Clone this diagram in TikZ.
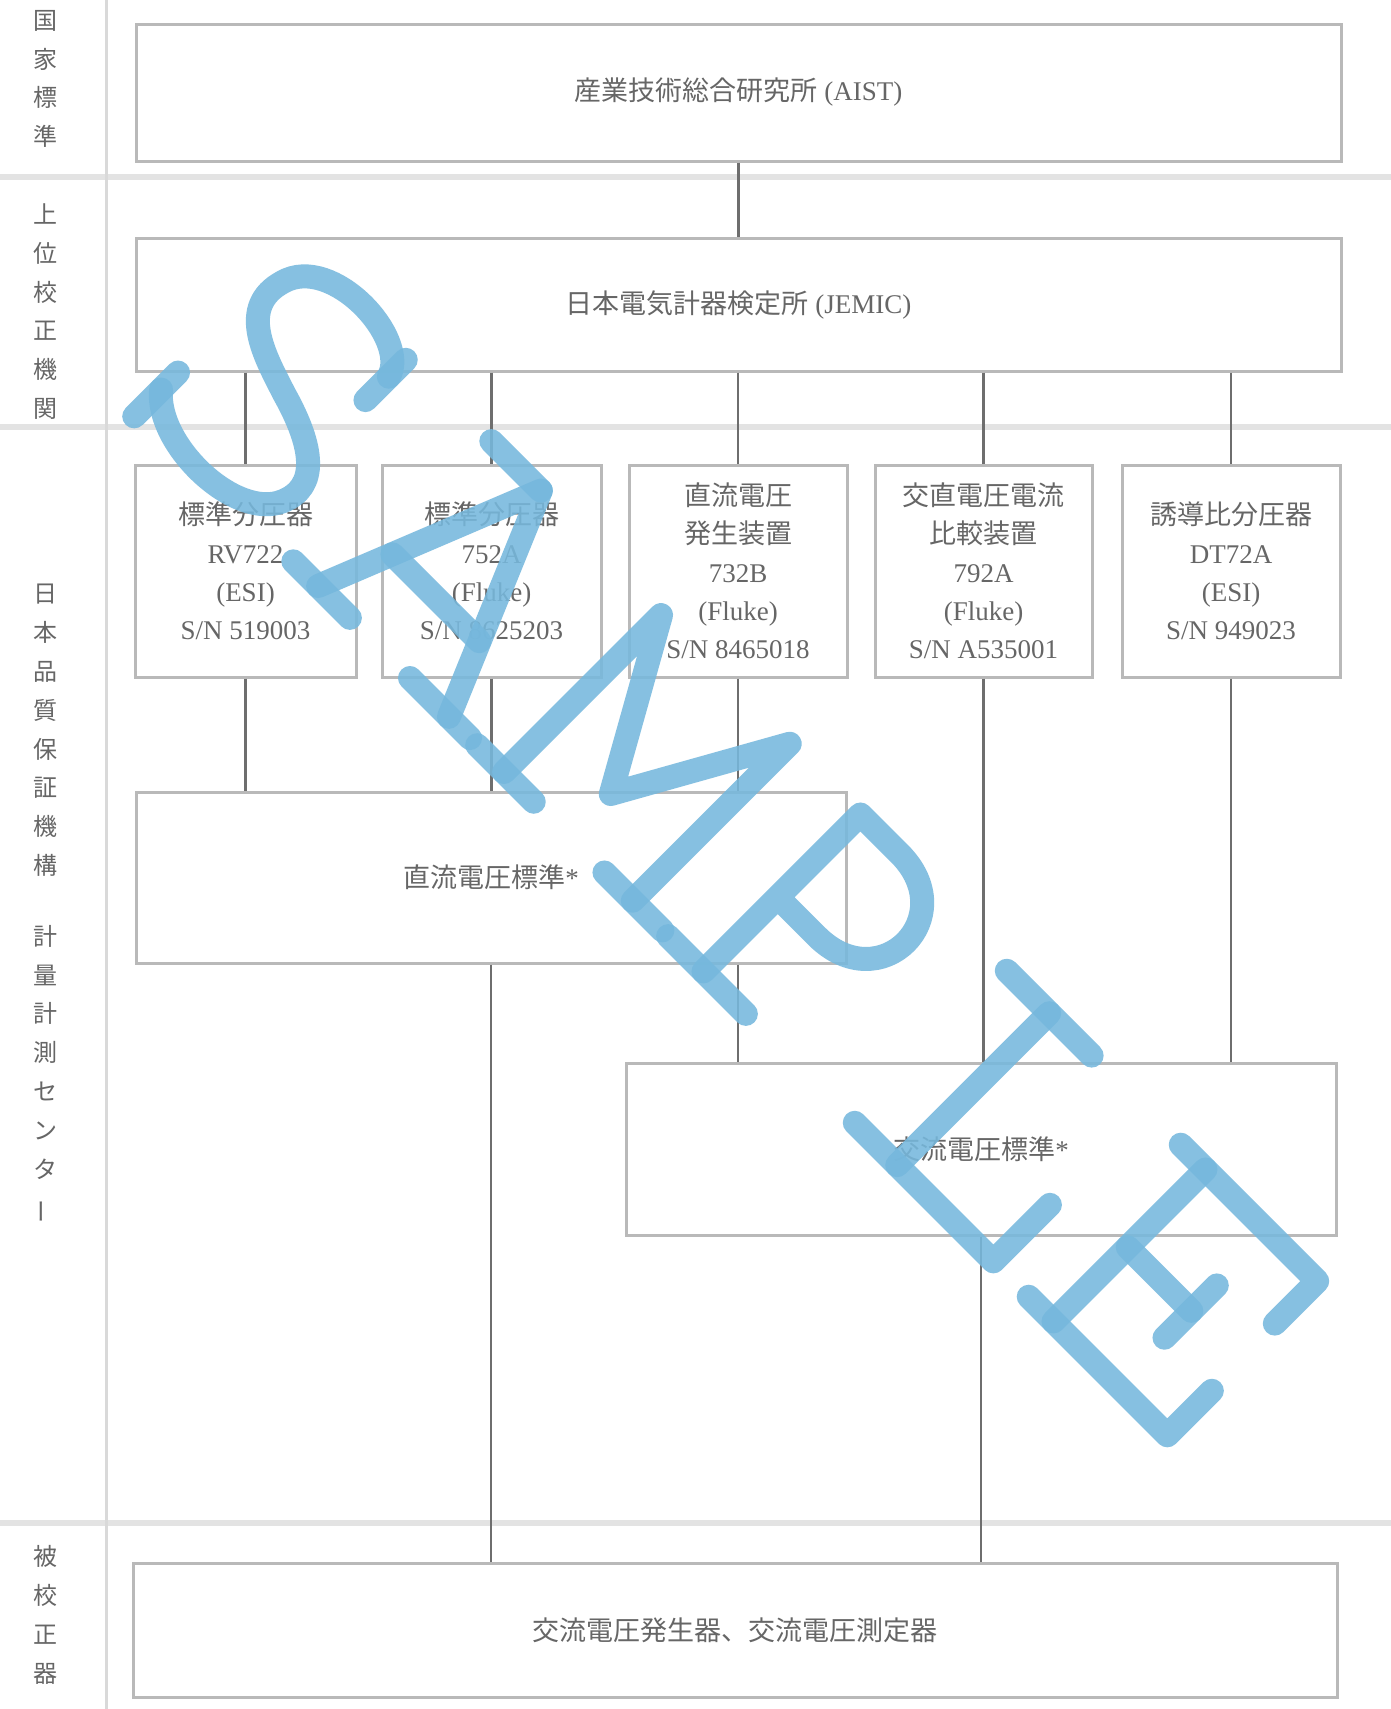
\documentclass[tikz,border=0pt]{standalone}
\usepackage{fontspec}
\usepackage{graphicx}
\setmainfont{Liberation Serif}
\newfontfamily\jp{Noto Sans CJK JP}
\definecolor{boxc}{HTML}{B9B9B9}
\definecolor{linec}{HTML}{6E6E6E}
\definecolor{txtc}{HTML}{666666}
\definecolor{sepc}{HTML}{E3E3E3}
\definecolor{vsepc}{HTML}{D9D9D9}
\definecolor{wm}{RGB}{118,184,221}
\begin{document}
\begin{tikzpicture}[x=1pt,y=-1pt,
  box/.style={draw=boxc, line width=3pt, inner sep=0pt, text=txtc,
    font=\fontsize{27}{38.3}\selectfont, align=center},
  conn/.style={draw=linec, line width=2.2pt},
  vlab/.style={text=txtc, font=\jp\fontsize{24}{38.8}\selectfont, align=center, inner sep=0pt},
  sepline/.style={draw=sepc, line width=6pt},
  wmark/.style={draw=wm, line width=24pt, line cap=round, line join=round, opacity=0.88}]
\fill[white] (0,0) rectangle (1391,1709);
\path[use as bounding box] (0,0) rectangle (1391,1709);
% separators
\draw[sepline] (0,177) -- (1391,177);
\draw[sepline] (0,427) -- (1391,427);
\draw[sepline] (0,1523) -- (1391,1523);
\draw[draw=vsepc, line width=3pt] (106,0) -- (106,1709);
% left labels
\node[vlab] (l1) at (45,79) {国\\家\\標\\準};
\node[vlab] (l2) at (45,311.5) {上\\位\\校\\正\\機\\関};
\node[vlab] (l3) at (45,904) {日\\本\\品\\質\\保\\証\\機\\構\\[32pt]計\\量\\計\\測\\セ\\ン\\タ\\\rotatebox[origin=c]{90}{ー}};
\node[vlab] (l4) at (45,1615) {被\\校\\正\\器};
% boxes
\node[box, minimum width=1205pt, minimum height=137pt] (aist) at (738.5,92.5) {{\jp 産業技術総合研究所}\ (AIST)};
\node[box, minimum width=1205pt, minimum height=133pt] (jemic) at (738.5,304.5) {{\jp 日本電気計器検定所}\ (JEMIC)};
\node[box, minimum width=221pt, minimum height=212pt] (b1) at (245.5,571) {{\jp 標準分圧器}\\RV722\\(ESI)\\S/N 519003};
\node[box, minimum width=219pt, minimum height=212pt] (b2) at (491.5,571) {{\jp 標準分圧器}\\752A\\(Fluke)\\S/N 8625203};
\node[box, minimum width=218pt, minimum height=212pt] (b3) at (738,571) {{\jp 直流電圧}\\{\jp 発生装置}\\732B\\(Fluke)\\S/N 8465018};
\node[box, minimum width=217pt, minimum height=212pt] (b4) at (983.5,571) {{\jp 交直電圧電流}\\{\jp 比較装置}\\792A\\(Fluke)\\S/N A535001};
\node[box, minimum width=218pt, minimum height=212pt] (b5) at (1231,571) {{\jp 誘導比分圧器}\\DT72A\\(ESI)\\S/N 949023};
\node[box, minimum width=710pt, minimum height=171pt] (dc) at (491,877.5) {{\jp 直流電圧標準}*};
\node[box, minimum width=710pt, minimum height=172pt] (ac) at (981,1149) {{\jp 交流電圧標準}*};
\node[box, minimum width=1204pt, minimum height=134pt] (cust) at (735,1630) {{\jp 交流電圧発生器、交流電圧測定器}};
% connectors
\draw[conn] (aist.south) -- (jemic.north);
\foreach \b in {b1,b2,b3,b4,b5}
  \draw[conn] (jemic.south -| \b.north) -- (\b.north);
\draw[conn] (b1.south) -- (b1.south |- dc.north);
\draw[conn] (b2.south) -- (b2.south |- dc.north);
\draw[conn] (b3.south) -- (b3.south |- dc.north);
\draw[conn] (b3.south |- dc.south) -- (b3.south |- ac.north);
\draw[conn] (b4.south) -- (b4.south |- ac.north);
\draw[conn] (b5.south) -- (b5.south |- ac.north);
\draw[conn] (dc.south) -- (dc.south |- cust.north);
\draw[conn] (ac.south) -- (ac.south |- cust.north);
% watermark
\begin{scope}[shift={(311,579)}, rotate=-45, yscale=-1]
  % S
  \draw[wmark] (-88,198) .. controls (-100,240) and (-215,245) .. (-230,190)
     .. controls (-245,140) and (-190,125) .. (-150,112)
     .. controls (-90,95) and (-60,70) .. (-75,35)
     .. controls (-95,-12) and (-205,-15) .. (-240,28);
  \draw[wmark] (-88,165) -- (-88,222);
  \draw[wmark] (-240,-10) -- (-240,52);
  % A
  \draw[wmark] (10,0) -- (100,225) -- (195,0);
  \draw[wmark] (30,225) -- (100,225);
  \draw[wmark] (40,75) -- (163,75);
  \draw[wmark] (-25,0) -- (55,0);
  \draw[wmark] (140,0) -- (225,0);
  % M
  \draw[wmark] (273,0) -- (273,222) -- (364,60) -- (455,222) -- (455,0);
  \draw[wmark] (235,0) -- (315,0);
  \draw[wmark] (415,0) -- (497,0);
  % P
  \draw[wmark] (555,0) -- (555,222) -- (610,222) .. controls (700,222) and (700,105) .. (610,105) -- (555,105);
  \draw[wmark] (505,0) -- (615,0);
  % L
  \draw[wmark] (829,0) -- (829,215);
  \draw[wmark] (769,215) -- (889,215);
  \draw[wmark] (769,0) -- (965,0) -- (965,80);
  % E
  \draw[wmark] (1050,0) -- (1050,215);
  \draw[wmark] (1015,215) -- (1208,215) -- (1208,155);
  \draw[wmark] (1050,105) -- (1140,105);
  \draw[wmark] (1140,67) -- (1140,141);
  \draw[wmark] (1015,0) -- (1211,0) -- (1211,63);
\end{scope}
\end{tikzpicture}
\end{document}
